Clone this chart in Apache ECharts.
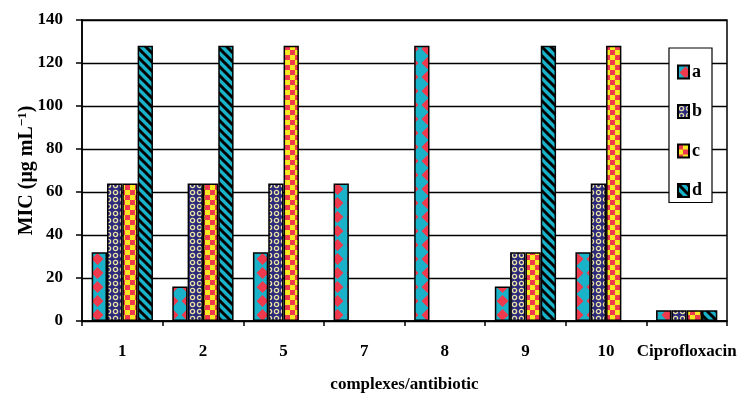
<!DOCTYPE html>
<html>
<head>
<meta charset="utf-8">
<script src="https://cdn.jsdelivr.net/npm/echarts@6/dist/echarts.min.js"></script>
<style>
html,body{margin:0;padding:0;background:#fff;}
#chart{width:744px;height:394px;}
</style>
</head>
<body>
<div id="chart"></div>
<script>
const categories = ['1', '2', '5', '7', '8', '9', '10', 'Ciprofloxacin'];
const seriesNames = ['a', 'b', 'c', 'd'];
const valuesA = [32, 16, 32, 64, 128, 16, 32, 5];
const valuesB = [64, 64, 64, '-', '-', 32, 64, 5];
const valuesC = [64, 64, 128, '-', '-', 32, 128, 5];
const valuesD = [128, 128, '-', '-', '-', 128, '-', 5];
const yTicks = [0, 20, 40, 60, 80, 100, 120, 140];

const CYAN = '#19b2c9', RED = '#ee3a4c', YEL = '#f7ea22', NAVY = '#2c2a7c', PALE = '#ebe3a6';

function mk(w, h, draw) {
  const c = document.createElement('canvas');
  c.width = w; c.height = h;
  const g = c.getContext('2d');
  draw(g, w, h);
  return c;
}
const patA = mk(15, 14, (g, w, h) => {
  g.fillStyle = CYAN; g.fillRect(0, 0, w, h);
  g.fillStyle = RED;
  g.beginPath();
  g.moveTo(7.5, 1); g.lineTo(13.5, 7); g.lineTo(7.5, 13); g.lineTo(1.5, 7); g.closePath();
  g.fill();
});
const patB = mk(7, 7, (g, w, h) => {
  g.fillStyle = NAVY; g.fillRect(0, 0, w, h);
  g.strokeStyle = PALE; g.lineWidth = 1.3;
  g.beginPath(); g.arc(3.5, 3.5, 2.1, 0, Math.PI * 2); g.stroke();
});
const patC = mk(10, 10, (g, w, h) => {
  g.fillStyle = YEL; g.fillRect(0, 0, w, h);
  g.fillStyle = RED; g.fillRect(0, 0, 5, 5); g.fillRect(5, 5, 5, 5);
});
const patD = mk(9, 9, (g, w, h) => {
  g.fillStyle = CYAN; g.fillRect(0, 0, w, h);
  g.strokeStyle = '#000'; g.lineWidth = 3;
  [-9, 0, 9].forEach(c => {
    g.beginPath(); g.moveTo(-2, -2 + c); g.lineTo(11, 11 + c); g.stroke();
  });
});
const patterns = [patA, patB, patC, patD];
const allValues = [valuesA, valuesB, valuesC, valuesD];

const FONT = 'Liberation Serif';
const chart = echarts.init(document.getElementById('chart'));
chart.setOption({
  animation: false,
  backgroundColor: '#fff',
  grid: { left: 82, right: 17, top: 20, bottom: 73, containLabel: false, outerBoundsMode: 'none', show: true, borderColor: '#000', borderWidth: 1.5, backgroundColor: 'transparent' },
  legend: {
    data: seriesNames,
    orient: 'vertical',
    right: 32, top: 48,
    backgroundColor: '#fff',
    borderColor: '#000', borderWidth: 1.2,
    borderRadius: 0,
    padding: [15, 10, 3, 8],
    itemWidth: 11, itemHeight: 13,
    itemGap: 21.5,
    icon: 'rect',
    textStyle: { fontFamily: FONT, fontWeight: 'bold', fontSize: 18, color: '#000', lineHeight: 17, padding: [0, 0, 0, -2] }
  },
  xAxis: {
    type: 'category',
    data: categories,
    name: 'complexes/antibiotic',
    nameLocation: 'middle',
    nameGap: 55,
    nameMoveOverlap: false,
    nameTextStyle: { fontFamily: FONT, fontWeight: 'bold', fontSize: 17, color: '#000' },
    axisLine: { lineStyle: { color: '#000', width: 1.5 } },
    axisTick: { show: true, length: 5, lineStyle: { color: '#000', width: 1.5 } },
    axisLabel: { interval: 0, fontFamily: FONT, fontWeight: 'bold', fontSize: 17, color: '#000', margin: 22 }
  },
  yAxis: {
    type: 'value',
    min: yTicks[0], max: yTicks[yTicks.length - 1], interval: 20,
    name: '{t|MIC (μg mL}{s|−1}{t|)}',
    nameLocation: 'middle',
    nameGap: 44,
    nameMoveOverlap: false,
    nameTextStyle: {
      rich: {
        t: { fontFamily: FONT, fontWeight: 'bold', fontSize: 20, color: '#000' },
        s: { fontFamily: FONT, fontWeight: 'bold', fontSize: 13, color: '#000', verticalAlign: 'top', padding: [0, 0, 9, 0] }
      }
    },
    axisLine: { show: true, lineStyle: { color: '#000', width: 1.5 } },
    axisTick: { show: true, length: 6, lineStyle: { color: '#000', width: 1.5 } },
    axisLabel: { fontFamily: FONT, fontWeight: 'bold', fontSize: 17, color: '#000', margin: 19 },
    splitLine: { show: true, lineStyle: { color: '#000', width: 1.3 } }
  },
  series: seriesNames.map((n, i) => ({
    name: n,
    type: 'bar',
    data: allValues[i],
    barGap: '0%',
    barCategoryGap: '24%',
    itemStyle: { color: { image: patterns[i], repeat: 'repeat' }, borderColor: '#000', borderWidth: 1.5 }
  }))
});
</script>
</body>
</html>
